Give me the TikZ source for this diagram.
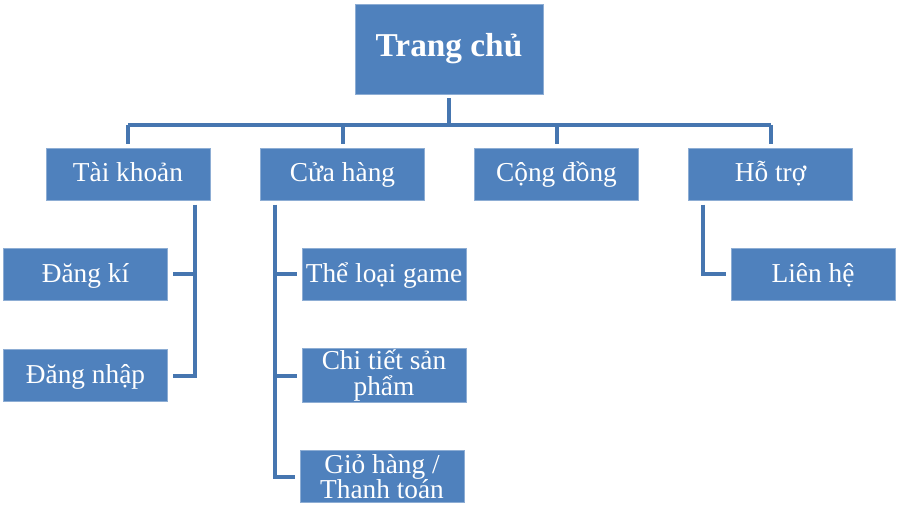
\documentclass[tikz,border=0pt]{standalone}
\usepackage{fontspec}
\setmainfont{Liberation Serif}
\usetikzlibrary{positioning,calc}
\definecolor{boxblue}{RGB}{79,129,189}
\definecolor{lineblue}{RGB}{70,118,176}
\tikzset{
	box/.style={rectangle, fill=boxblue, draw=boxblue!65!white, line width=0.6pt,
		text=white, align=center, inner sep=1pt, minimum width=123pt, minimum height=39pt,
		font=\fontsize{20.5}{19}\selectfont},
	oneline/.style={box, text height=14pt, text depth=2pt},
	tline/.style={draw=lineblue, line width=3pt, line join=miter}
}

\begin{document}
\begin{tikzpicture}[x=0.75pt, y=-0.75pt]
	\useasboundingbox (0,0) rectangle (899,520);
	\begin{scope}
		% root
		\node[oneline, minimum width=141pt, minimum height=67.5pt, text height=17pt, text depth=5pt, font=\fontsize{25}{26}\selectfont\bfseries] (home) at (449, 49) {Trang chủ};

		% first level
		\node[oneline] (acc) at (128, 174) {Tài khoản};
		\node[oneline] (shop) at (342.5, 174) {Cửa hàng};
		\node[oneline] (comm) at (556.5, 174) {Cộng đồng};
		\node[oneline] (help) at (770.5, 174) {Hỗ trợ};

		% second level
		\node[oneline] (reg) at (85.5, 274.5) {Đăng kí};
		\node[oneline] (login) at (85.5, 375.5) {Đăng nhập};
		\node[oneline] (cat) at (384, 274.5) {Thể loại game};
		\node[box] (detail) at (384, 375.5) {Chi tiết sản\\phẩm};
		\node[box] (cart) at (382, 476.5) {Giỏ hàng /\\Thanh toán};
		\node[oneline] (contact) at (813, 274) {Liên hệ};

		\coordinate (bus) at (449, 125);
		\coordinate (accspine) at (195, 200);
		\coordinate (shopspine) at (275, 200);
		\coordinate (helpspine) at (703, 200);

		\draw[tline, shorten <=3pt] (home.south) -- (bus);
		\draw[tline] (acc.north |- bus) -- (help.north |- bus);
		\foreach \n in {acc, shop, comm, help}
			\draw[tline, shorten >=3pt] (\n.north |- bus) -- (\n.north);

		\draw[tline, shorten <=3.5pt, shorten >=3.5pt] (accspine) |- (login.east);
		\draw[tline, shorten >=3.5pt] (accspine |- reg) -- (reg.east);

		\draw[tline, shorten <=3.5pt, shorten >=3.5pt] (shopspine) |- (cart.west);
		\draw[tline, shorten >=3.5pt] (shopspine |- cat) -- (cat.west);
		\draw[tline, shorten >=3.5pt] (shopspine |- detail) -- (detail.west);

		\draw[tline, shorten <=3.5pt, shorten >=3.5pt] (helpspine) |- (contact.west);
	\end{scope}
\end{tikzpicture}
\end{document}
